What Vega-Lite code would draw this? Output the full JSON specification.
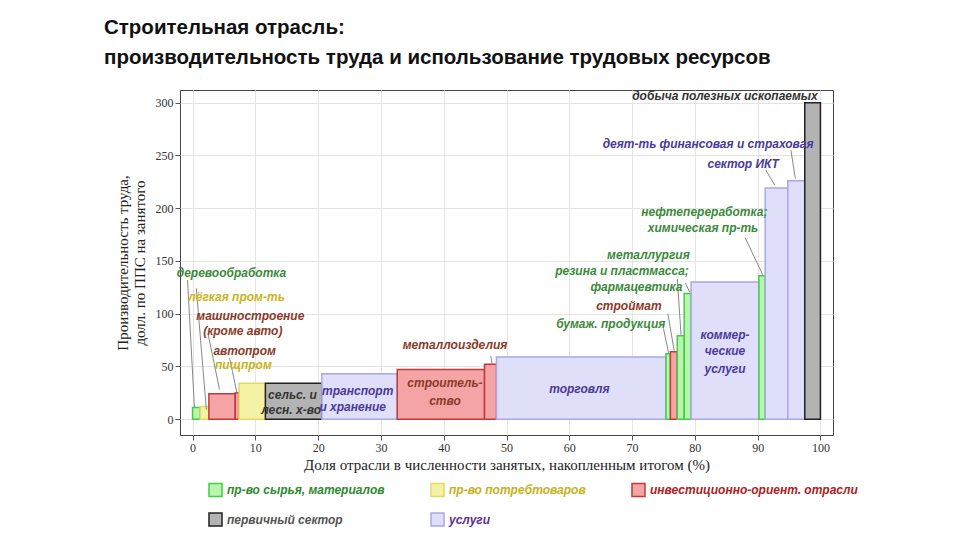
{
"$schema":"https://vega.github.io/schema/vega-lite/v6.json",
"width":653,"height":345,
"autosize":"none",
"padding":{"left":180,"top":90,"right":125,"bottom":105},
"background":"white",
"config":{"view":{"stroke":"#444","strokeWidth":1},"font":"Liberation Sans"},
"title":{"text":["Строительная отрасль:","производительность труда и использование трудовых ресурсов"],"anchor":"start","frame":"group","dx":-76,"fontSize":20.5,"fontWeight":"bold","color":"#111","lineHeight":30,"offset":22,"font":"Liberation Sans"},
"datasets":{
"bars":[
{"n":"деревообработка","x0":0,"x1":1.2,"h":11,"g":"пр-во сырья, материалов"},
{"n":"лёгкая","x0":1.2,"x1":2.6,"h":12,"g":"пр-во потребтоваров"},
{"n":"машиностроение","x0":2.6,"x1":6.8,"h":24,"g":"инвестиционно-ориент. отрасли"},
{"n":"автопром","x0":6.8,"x1":7.4,"h":25,"g":"инвестиционно-ориент. отрасли"},
{"n":"пищпром","x0":7.4,"x1":11.6,"h":34,"g":"пр-во потребтоваров"},
{"n":"сельс","x0":11.6,"x1":20.6,"h":34,"g":"первичный сектор"},
{"n":"транспорт","x0":20.6,"x1":32.6,"h":43,"g":"услуги"},
{"n":"строительство","x0":32.6,"x1":46.5,"h":47,"g":"инвестиционно-ориент. отрасли"},
{"n":"металлоизделия","x0":46.5,"x1":48.4,"h":52,"g":"инвестиционно-ориент. отрасли"},
{"n":"торговля","x0":48.4,"x1":75.4,"h":59,"g":"услуги"},
{"n":"бумаж","x0":75.4,"x1":76.1,"h":62,"g":"пр-во сырья, материалов"},
{"n":"строймат","x0":76.1,"x1":77.2,"h":64,"g":"инвестиционно-ориент. отрасли"},
{"n":"резина","x0":77.2,"x1":78.3,"h":79,"g":"пр-во сырья, материалов"},
{"n":"металлургия","x0":78.3,"x1":79.4,"h":119,"g":"пр-во сырья, материалов"},
{"n":"коммерческие","x0":79.4,"x1":90.2,"h":130,"g":"услуги"},
{"n":"нефте","x0":90.2,"x1":91.2,"h":136,"g":"пр-во сырья, материалов"},
{"n":"ИКТ","x0":91.2,"x1":94.8,"h":219,"g":"услуги"},
{"n":"финансы","x0":94.8,"x1":97.5,"h":226,"g":"услуги"},
{"n":"добыча","x0":97.5,"x1":100,"h":300,"g":"первичный сектор"}
],
"labels":[
{"t":"деревообработка","x":6.2,"y":139,"g":"пр-во сырья, материалов"},
{"t":"лёгкая пром-ть","x":7.0,"y":116,"g":"пр-во потребтоваров"},
{"t":"машиностроение","x":9.2,"y":98,"g":"инвестиционно-ориент. отрасли"},
{"t":"(кроме авто)","x":8.0,"y":84,"g":"инвестиционно-ориент. отрасли"},
{"t":"автопром","x":8.3,"y":65,"g":"инвестиционно-ориент. отрасли"},
{"t":"пищпром","x":8.1,"y":51,"g":"пр-во потребтоваров"},
{"t":"сельс. и","x":15.9,"y":23,"g":"первичный сектор"},
{"t":"лесн. х-во","x":15.7,"y":9,"g":"первичный сектор"},
{"t":"транспорт","x":26.3,"y":27,"g":"услуги"},
{"t":"и хранение","x":25.5,"y":12,"g":"услуги"},
{"t":"строитель-","x":40.2,"y":34,"g":"инвестиционно-ориент. отрасли"},
{"t":"ство","x":40.2,"y":17,"g":"инвестиционно-ориент. отрасли"},
{"t":"металлоизделия","x":41.8,"y":70,"g":"инвестиционно-ориент. отрасли"},
{"t":"торговля","x":61.6,"y":29,"g":"услуги"},
{"t":"бумаж. продукция","x":66.6,"y":90,"g":"пр-во сырья, материалов"},
{"t":"строймат","x":69.5,"y":107,"g":"инвестиционно-ориент. отрасли"},
{"t":"резина и пластмасса;","x":68.4,"y":140,"g":"пр-во сырья, материалов"},
{"t":"фармацевтика","x":70.7,"y":125,"g":"пр-во сырья, материалов"},
{"t":"металлургия","x":72.6,"y":156,"g":"пр-во сырья, материалов"},
{"t":"нефтепереработка;","x":81.5,"y":196,"g":"пр-во сырья, материалов"},
{"t":"химическая пр-ть","x":81.3,"y":181,"g":"пр-во сырья, материалов"},
{"t":"коммер-","x":84.8,"y":80,"g":"услуги"},
{"t":"ческие","x":84.8,"y":65,"g":"услуги"},
{"t":"услуги","x":84.8,"y":48,"g":"услуги"},
{"t":"сектор ИКТ","x":87.7,"y":242,"g":"услуги"},
{"t":"деят-ть финансовая и страховая","x":82.1,"y":261,"g":"услуги"},
{"t":"добыча полезных ископаемых","x":84.8,"y":306,"g":"первичный сектор"}
],
"leaders":[
{"x":-0.8,"y":132,"x2":0.3,"y2":11},
{"x":0.6,"y":124,"x2":2.2,"y2":9},
{"x":2.5,"y":80,"x2":4.3,"y2":28},
{"x":5.9,"y":58,"x2":7.1,"y2":24},
{"x":47.5,"y":60,"x2":47.7,"y2":52},
{"x":75.0,"y":86,"x2":75.8,"y2":63},
{"x":75.7,"y":100,"x2":76.7,"y2":65},
{"x":77.2,"y":133,"x2":77.8,"y2":80},
{"x":78.5,"y":129,"x2":79.2,"y2":120},
{"x":88,"y":172,"x2":90.8,"y2":137},
{"x":91.3,"y":236,"x2":92.7,"y2":222},
{"x":95.3,"y":255,"x2":96,"y2":228}
]
},
"layer":[
{"data":{"name":"bars"},"mark":{"type":"rect","strokeWidth":1.5},
"encoding":{
"x":{"field":"x0","type":"quantitative","scale":{"domain":[-2,102],"nice":false},"axis":{"values":[0,10,20,30,40,50,60,70,80,90,100],"title":"Доля отрасли в численности занятых, накопленным итогом (%)","titleFont":"Liberation Serif","titleFontSize":15,"titleFontWeight":"normal","titleColor":"#222","labelFont":"Liberation Serif","labelFontSize":12,"labelColor":"#333","domain":false,"tickColor":"#555","gridColor":"#e4e4e4","titlePadding":4}},
"x2":{"field":"x1"},
"y":{"field":"h","type":"quantitative","scale":{"domain":[-15,312],"nice":false,"zero":false},"axis":{"values":[0,50,100,150,200,250,300],"title":["Производительность труда,","долл. по ППС на занятого"],"titleFont":"Liberation Serif","titleFontSize":15,"titleFontWeight":"normal","titleColor":"#222","labelFont":"Liberation Serif","labelFontSize":12,"labelColor":"#333","domain":false,"tickColor":"#555","gridColor":"#e4e4e4","titlePadding":8}},
"y2":{"datum":0},
"fill":{"field":"g","type":"nominal","scale":{"domain":["пр-во сырья, материалов","пр-во потребтоваров","инвестиционно-ориент. отрасли","первичный сектор","услуги"],"range":["#b8f5b0","#f5f2a6","#f4a4a4","#b3b3b3","#dfdff9"]},
"legend":{"orient":"none","direction":"horizontal","legendX":28,"legendY":392,"columns":3,"title":null,"symbolType":"square","symbolSize":170,"symbolStrokeWidth":1.5,"labelFontSize":12,"labelFontStyle":"italic","labelFontWeight":"bold","columnPadding":42,"rowPadding":9,"labelLimit":300,
"encode":{"labels":{"update":{"fill":{"signal":"datum.label=='услуги' ? '#5b2f99' : datum.label=='первичный сектор' ? '#555' : datum.label=='пр-во потребтоваров' ? '#c8b020' : datum.label=='пр-во сырья, материалов' ? '#2e8a2e' : '#b02020'"}}}}}},
"stroke":{"field":"g","type":"nominal","scale":{"domain":["пр-во сырья, материалов","пр-во потребтоваров","инвестиционно-ориент. отрасли","первичный сектор","услуги"],"range":["#44cc44","#e3da66","#c83838","#222222","#a8a8e6"]}}
}},
{"data":{"name":"leaders"},"mark":{"type":"rule","color":"#888","strokeWidth":1},
"encoding":{"x":{"field":"x","type":"quantitative"},"y":{"field":"y","type":"quantitative"},"x2":{"field":"x2"},"y2":{"field":"y2"}}},
{"data":{"name":"labels"},"mark":{"type":"text","fontSize":12,"fontStyle":"italic","fontWeight":"bold","font":"Liberation Sans"},
"encoding":{"x":{"field":"x","type":"quantitative"},"y":{"field":"y","type":"quantitative"},"text":{"field":"t"},
"color":{"field":"g","type":"nominal","legend":null,"scale":{"domain":["пр-во сырья, материалов","пр-во потребтоваров","инвестиционно-ориент. отрасли","первичный сектор","услуги"],"range":["#3a8a3a","#c8b420","#8a3a28","#333333","#4a3a9a"]}}}}
]
}
